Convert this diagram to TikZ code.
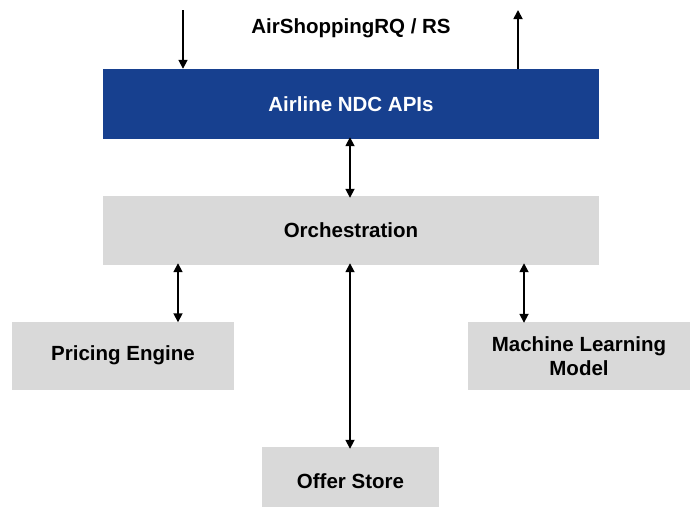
\documentclass[tikz,border=0pt]{standalone}
\usepackage{fontspec}
\setmainfont{Liberation Sans}
\usetikzlibrary{arrows.meta}
\definecolor{ndcblue}{HTML}{17408F}
\definecolor{boxgray}{HTML}{D9D9D9}
\begin{document}
\begin{tikzpicture}[x=1pt,y=-1pt,
  lbl/.style={font=\bfseries\fontsize{20.5}{24}\selectfont},
  box/.style={lbl,fill=boxgray,draw=none,inner sep=0pt,align=center},
  bluebox/.style={lbl,fill=ndcblue,draw=none,inner sep=0pt,align=center,text=white},
  conn/.style={line width=1.7pt,-{Triangle[length=9pt,width=9pt]}},
  dconn/.style={line width=1.7pt,{Triangle[length=9pt,width=9pt]}-{Triangle[length=9pt,width=9pt]}}]
\useasboundingbox (0,0) rectangle (690,506);
\node[bluebox,minimum width=496pt,minimum height=70pt] (api) at (351,104) {Airline NDC APIs};
\node[box,minimum width=496pt,minimum height=69pt] (orch) at (351,230.5) {Orchestration};
\node[box,minimum width=222pt,minimum height=68pt] (price) at (123,355.5) {Pricing Engine};
\node[box,minimum width=222pt,minimum height=68pt] (ml) at (579,356) {Machine Learning\\Model};
\node[box,minimum width=177pt,minimum height=68pt] (offer) at (350.5,481) {Offer Store};
\node[lbl] (title) at (351,28) {AirShoppingRQ / RS};
\coordinate (inTop) at (183,10);
\coordinate (outTop) at (518,10);
\draw[conn] (inTop) -- (inTop |- api.north);
\draw[conn] (outTop |- api.north) -- (outTop);
\draw[dconn] ([yshift=2pt]api.south -| 350,0) -- ([yshift=-2pt]orch.north -| 350,0);
\draw[dconn] ([yshift=2pt]orch.south -| 178,0) -- ([yshift=-1pt]price.north -| 178,0);
\draw[dconn] ([yshift=2pt]orch.south -| 524,0) -- ([yshift=-1pt]ml.north -| 524,0);
\draw[dconn] ([yshift=2pt]orch.south -| 350,0) -- ([yshift=-2pt]offer.north -| 350,0);
\end{tikzpicture}
\end{document}
